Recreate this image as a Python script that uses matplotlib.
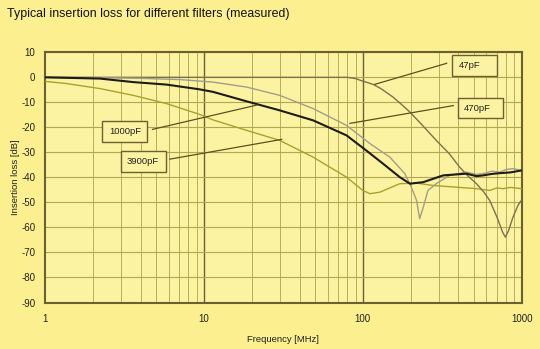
import numpy as np
import matplotlib
matplotlib.use("Agg")
import matplotlib.pyplot as plt
from matplotlib.patches import Rectangle
from matplotlib.ticker import FixedLocator, NullFormatter

plt.rcParams["font.family"] = ["Liberation Sans", "DejaVu Sans"]
plt.rcParams["axes.unicode_minus"] = False

# measured insertion loss curves (MHz, dB)
f_47 = [1, 10, 50, 80, 90, 100, 116, 130, 155, 175, 198, 240, 290, 350, 407, 460,
        519, 580, 629, 700, 760, 790, 830, 880, 950, 1000]
il_47 = [0, 0, 0, 0, -0.5, -1.5, -2.8, -4.5, -7.9, -10.8, -13.9, -19.5, -25.2, -30.5,
         -35.9, -39.5, -42.5, -46, -49.2, -56, -62, -63.9, -61, -56, -51, -49]

f_470 = [1, 2, 4, 7.07, 11.4, 18.6, 30, 48.7, 79, 111, 148, 184, 202, 218, 228, 240,
         257, 290, 352, 448, 520, 570, 650, 728, 800, 886, 1000]
il_470 = [0, -0.1, -0.4, -0.9, -1.9, -3.9, -7.2, -12.5, -19.2, -26.5, -31.9, -38.5,
          -43.9, -49.2, -56.5, -52, -45.2, -42.5, -39.2, -37.9, -38.8, -38.5, -37.5,
          -37.9, -36.8, -36.5, -37.2]

f_1000 = [1, 2.22, 3.59, 5.82, 9.4, 11.4, 18.6, 30, 48.7, 79, 105, 134, 171, 198, 240,
          320, 448, 520, 570, 650, 728, 850, 1000]
il_1000 = [0, -0.5, -1.9, -2.9, -4.8, -5.8, -9.6, -13.2, -17.2, -23.2, -29.2, -34.5,
           -39.9, -42.5, -41.9, -39.2, -38.5, -39.5, -39.2, -38.6, -38.3, -38.0, -37.2]

f_3900 = [1, 1.37, 2.22, 3.59, 5.82, 9.4, 11.4, 18.6, 30, 48.7, 79, 100, 111, 128, 171,
          218, 276, 386, 519, 629, 700, 762, 850, 1000]
il_3900 = [-1.6, -2.5, -4.5, -7.2, -10.5, -14.8, -17.0, -21.2, -25.2, -31.9, -39.9,
           -45.2, -46.5, -45.9, -42.5, -42.3, -43.2, -43.9, -44.5, -45.2, -44.2, -44.5,
           -44.0, -44.5]

labels = ["47pF", "470pF", "1000pF", "3900pF"]
# label boxes: (left f, right f, bottom dB, top dB, text f, line start f/dB, line end f/dB)
boxes = {
    "1000pF": (2.29, 4.40, -26.0, -17.5, 2.53, (4.75, -20.8), (21.5, -11.1)),
    "3900pF": (3.01, 5.75, -38.0, -29.5, 3.27, (6.1, -32.7), (30.9, -24.8)),
    "47pF": (366, 696, 0.5, 8.9, 403, (337, 5.6), (119, -2.8)),
    "470pF": (396, 766, -16.4, -8.2, 433, (371, -11.3), (83, -18.4)),
}

bg = "#fbef8f"
face = "#fcf3a2"
dark = "#6b6030"

fig = plt.figure(figsize=(5.4, 3.49), dpi=100, facecolor=bg)
ax = fig.add_axes([0.0833, 0.1332, 0.8828, 0.7169], facecolor=face)

ax.set_xscale("log")
ax.set_xlim(1, 1000)
ax.set_ylim(-90, 10)

# grid: dark decade lines, lighter minor lines
for d in (10, 100):
    ax.axvline(d, color=dark, lw=1.0, zorder=1)
ax.xaxis.set_minor_locator(FixedLocator([m * 10 ** e for e in range(3) for m in range(2, 10)]))
ax.xaxis.set_minor_formatter(NullFormatter())
ax.grid(True, which="minor", axis="x", color="#b9ae58", lw=0.7, zorder=0)
ax.set_yticks(np.arange(-90, 11, 10))
ax.grid(True, which="major", axis="y", color="#b3a852", lw=0.8, zorder=0)
ax.set_xticks([1, 10, 100, 1000])
ax.set_xticklabels(["1", "10", "100", "1000"])
ax.tick_params(which="both", length=0)
ax.tick_params(axis="x", pad=8, labelsize=7, colors="#222222")
ax.tick_params(axis="y", pad=7, labelsize=7, colors="#222222")
for sp in ax.spines.values():
    sp.set_color(dark)
    sp.set_linewidth(1.5)

ax.plot(f_3900, il_3900, color="#a9a12e", lw=1.0, zorder=3)
ax.plot(f_47, il_47, color="#7a724f", lw=1.0, zorder=3)
ax.plot(f_470, il_470, color="#a19d8a", lw=1.0, zorder=3)
ax.plot(f_1000, il_1000, color="#1e1c12", lw=1.5, zorder=3)

for name in labels:
    x0, x1, y0, y1, tx, p0, p1 = boxes[name]
    ax.add_patch(Rectangle((x0, y0), x1 - x0, y1 - y0, facecolor=face,
                           edgecolor=dark, lw=1.0, zorder=4))
    ax.text(tx, (y0 + y1) / 2, name, fontsize=6.8, color="#222222",
            ha="left", va="center", zorder=5)
    ax.plot([p0[0], p1[0]], [p0[1], p1[1]], color="#5a5020", lw=0.9, zorder=4)

ax.set_xlabel("Frequency [MHz]", fontsize=6.8, color="#222222", labelpad=8)
ax.set_ylabel("Insertion loss [dB]", fontsize=6.8, color="#222222", labelpad=1)
fig.text(0.013, 0.96, "Typical insertion loss for different filters (measured)",
         fontsize=8.9, color="#111111", ha="left", va="center")

fig.savefig("out.png", dpi=100, facecolor=bg)
